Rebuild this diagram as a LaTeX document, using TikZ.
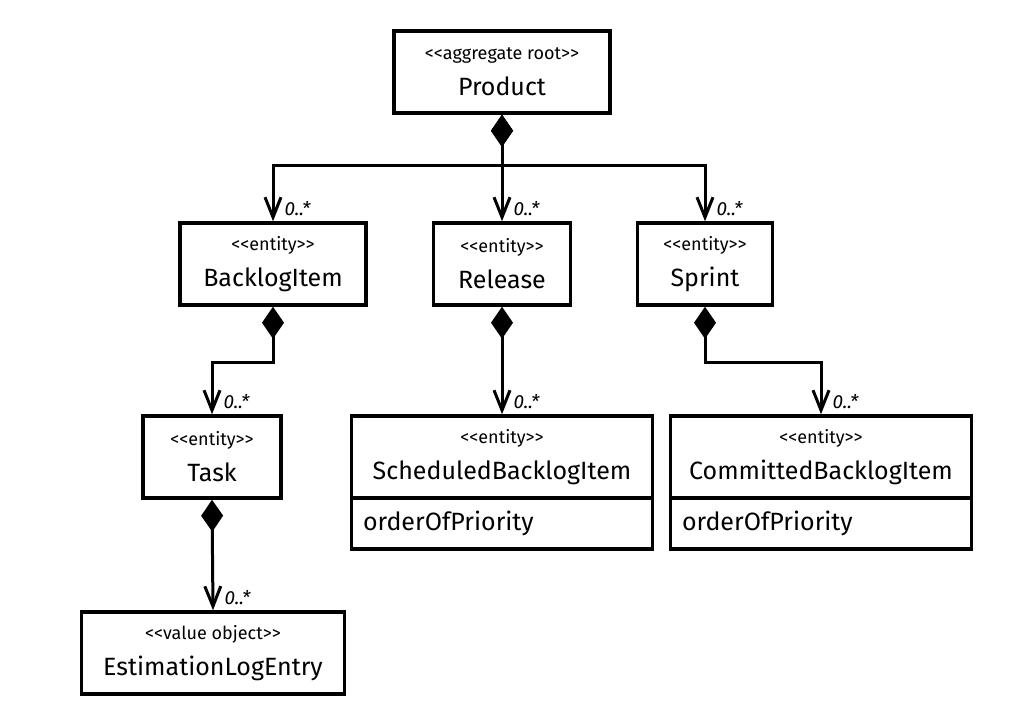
\documentclass[tikz,border=0pt]{standalone}
\usepackage{fontspec}
\setmainfont{Fira Sans}
\newfontfamily\stfont{Fira Sans}
\usetikzlibrary{arrows.meta}
\newcommand{\stereo}[1]{{\stfont\fontsize{18}{20}\selectfont<<#1>>}}
\begin{document}
\begin{tikzpicture}[x=1pt,y=-1pt,
every node/.style={inner sep=0pt},
cls/.style={draw,line width=3.5pt,align=center,minimum height=82pt,font=\fontsize{25}{28}\selectfont},
attr/.style={draw,line width=3.5pt,align=left,anchor=north,yshift=3.5pt,minimum height=51pt,font=\fontsize{25}{28}\selectfont},
mult/.style={font=\fontsize{19}{22}\selectfont\itshape,anchor=south west,xshift=10pt,yshift=4pt},
comp/.style={{Diamond[length=32pt,width=22pt]}-{Straight Barb[length=20pt,width=16pt]},line width=3pt}
]
\useasboundingbox (0,0) rectangle (1032,712);
\node[cls,minimum width=216pt]at(502,72)(prod){\stereo{aggregate root}\\[8pt]Product};
\node[cls,minimum width=186pt]at(273,264)(bi){\stereo{entity}\\[8pt]BacklogItem};
\node[cls,minimum width=137pt]at(502,264)(rel){\stereo{entity}\\[8pt]Release};
\node[cls,minimum width=135pt]at(705,264)(spr){\stereo{entity}\\[8pt]Sprint};
\node[cls,minimum width=138pt]at(212,457)(task){\stereo{entity}\\[8pt]Task};
\node[cls,minimum width=301pt]at(502,457)(sbi){\stereo{entity}\\[8pt]ScheduledBacklogItem};
\node[attr,minimum width=301pt,text width=278pt]at(sbi.south)(sbia){orderOfPriority};
\node[cls,minimum width=301pt]at(821,457)(cbi){\stereo{entity}\\[8pt]CommittedBacklogItem};
\node[attr,minimum width=301pt,text width=278pt]at(cbi.south)(cbia){orderOfPriority};
\node[cls,minimum width=263pt]at(213,653)(ele){\stereo{value object}\\[8pt]EstimationLogEntry};
\draw[comp](prod.south)--++(0,51)-|node[mult,pos=1](m1){0..*}(bi.north);
\draw[comp](prod.south)--node[mult,pos=1](m2){0..*}(rel.north);
\draw[comp](prod.south)--++(0,51)-|node[mult,pos=1](m3){0..*}(spr.north);
\draw[comp](bi.south)--++(0,56)-|node[mult,pos=1](m4){0..*}(task.north);
\draw[comp](rel.south)--node[mult,pos=1](m5){0..*}(sbi.north);
\draw[comp](spr.south)--++(0,56)-|node[mult,pos=1](m6){0..*}(cbi.north);
\draw[comp](task.south)--node[mult,pos=1](m7){0..*}(ele.north);
\end{tikzpicture}
\end{document}
